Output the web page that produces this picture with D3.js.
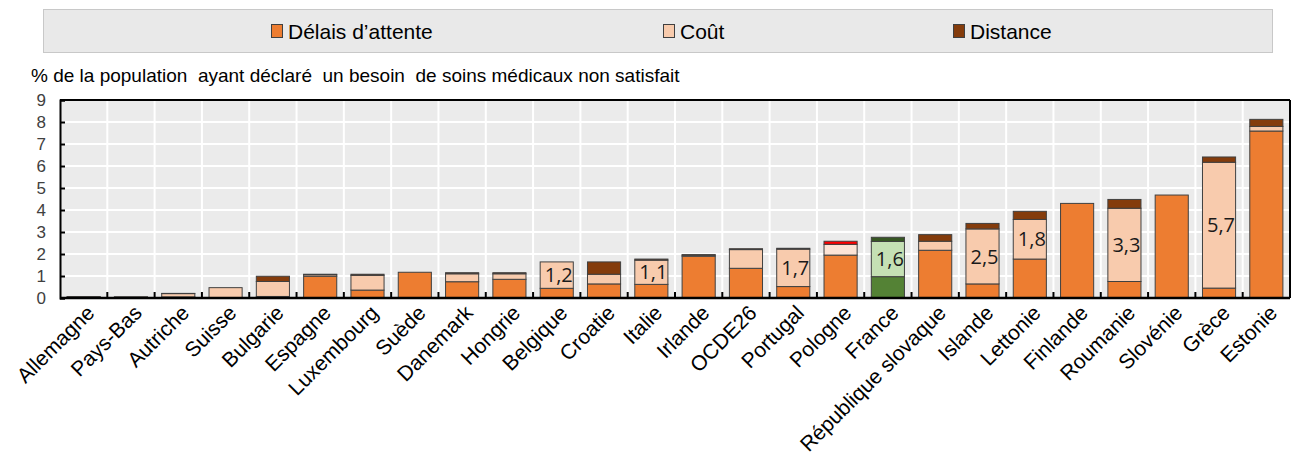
<!DOCTYPE html>
<html>
<head>
<meta charset="utf-8">
<script src="https://cdn.jsdelivr.net/npm/d3@7"></script>
<style>
  body { margin: 0; background: #fff; }
  svg { display: block; font-family: "Liberation Sans", Arial, sans-serif; }
</style>
</head>
<body>
<svg width="1299" height="463"></svg>
<script>
const countries = ['Allemagne', 'Pays-Bas', 'Autriche', 'Suisse', 'Bulgarie', 'Espagne', 'Luxembourg',
  'Suède', 'Danemark', 'Hongrie', 'Belgique', 'Croatie', 'Italie', 'Irlande', 'OCDE26', 'Portugal',
  'Pologne', 'France', 'République slovaque', 'Islande', 'Lettonie', 'Finlande', 'Roumanie',
  'Slovénie', 'Grèce', 'Estonie'];

const delai    = [0.02, 0.02, 0.05, 0.02, 0.07, 0.99, 0.36, 1.17, 0.74, 0.85, 0.44, 0.64, 0.62,
                  1.90, 1.35, 0.52, 1.95, 0.97, 2.17, 0.64, 1.77, 4.30, 0.75, 4.68, 0.45, 7.59];
const cout     = [0.03, 0.02, 0.15, 0.45, 0.68, 0.07, 0.67, 0.00, 0.36, 0.25, 1.20, 0.44, 1.10,
                  0.05, 0.85, 1.70, 0.49, 1.60, 0.41, 2.50, 1.80, 0.00, 3.33, 0.00, 5.72, 0.21];
const distance = [0.01, 0.01, 0.01, 0.00, 0.24, 0.02, 0.05, 0.00, 0.05, 0.05, 0.00, 0.56, 0.05,
                  0.02, 0.04, 0.04, 0.14, 0.19, 0.30, 0.25, 0.37, 0.00, 0.40, 0.00, 0.24, 0.32];

// countries whose cost value is written on the bar
const labelled = ['Belgique', 'Italie', 'Portugal', 'France', 'Islande', 'Lettonie', 'Roumanie', 'Grèce'];

const yTicks = [0, 1, 2, 3, 4, 5, 6, 7, 8, 9];

const KEYS = ['delai', 'cout', 'distance'];
const LEGEND = ['Délais d’attente', 'Coût', 'Distance'];
const COLORS = {delai: '#ED7D31', cout: '#F8CBAD', distance: '#843C0C'};
// highlighted bars
const SPECIAL = {
  'Pologne': {delai: '#ED7D31', cout: '#FCE4D6', distance: '#FF0000'},
  'France': {delai: '#548235', cout: '#C5E0B4', distance: '#375623'}
};

const MARGIN = {top: 100, right: 9, bottom: 165, left: 60};
const WIDTH = 1299 - MARGIN.left - MARGIN.right;
const HEIGHT = 463 - MARGIN.top - MARGIN.bottom;

const rows = countries.map((c, i) => ({country: c, delai: delai[i], cout: cout[i], distance: distance[i]}));
const series = d3.stack().keys(KEYS)(rows);

const svg = d3.select('svg');

/* legend box */
const leg = svg.append('g');
leg.append('rect')
  .attr('x', 43.5).attr('y', 9.5).attr('width', 1229).attr('height', 43)
  .attr('fill', '#E9E9E9').attr('stroke', '#C8C8C8');
const legX = [271, 663, 953];
KEYS.forEach((k, i) => {
  leg.append('rect')
    .attr('x', legX[i] + 0.5).attr('y', 24.5).attr('width', 11).attr('height', 13)
    .attr('fill', COLORS[k]).attr('stroke', '#404040');
  leg.append('text')
    .attr('x', legX[i] + 17).attr('y', 39)
    .attr('font-size', 21).attr('fill', '#000')
    .text(LEGEND[i]);
});

/* title */
svg.append('text')
  .attr('x', 31).attr('y', 82)
  .attr('font-size', 19).attr('fill', '#000')
  .style('white-space', 'pre')
  .text('% de la population  ayant déclaré  un besoin  de soins médicaux non satisfait');

const g = svg.append('g').attr('transform', 'translate(' + MARGIN.left + ',' + MARGIN.top + ')');

const x = d3.scaleBand().domain(countries).range([0, WIDTH]).paddingInner(0.3).paddingOuter(0.15);
const y = d3.scaleLinear().domain([0, 9]).range([HEIGHT, 0]);

g.append('rect').attr('width', WIDTH).attr('height', HEIGHT).attr('fill', '#EBEBEB');

// grid
g.append('g').selectAll('line').data(yTicks.slice(1, -1)).join('line')
  .attr('x1', 0).attr('x2', WIDTH)
  .attr('y1', d => y(d)).attr('y2', d => y(d))
  .attr('stroke', '#fff').attr('stroke-width', 2);
const step = x.step();
const bounds = countries.slice(1).map(c => x(c) - step * x.paddingInner() / 2);
g.append('g').selectAll('line').data(bounds).join('line')
  .attr('x1', d => d).attr('x2', d => d)
  .attr('y1', 0).attr('y2', HEIGHT)
  .attr('stroke', '#fff').attr('stroke-width', 2);

// bars
series.forEach(s => {
  g.append('g').selectAll('rect').data(s).join('rect')
    .attr('x', d => x(d.data.country))
    .attr('width', x.bandwidth())
    .attr('y', d => y(d[1]))
    .attr('height', d => Math.max(0, y(d[0]) - y(d[1])))
    .attr('fill', d => (SPECIAL[d.data.country] || COLORS)[s.key])
    .attr('stroke', '#404040').attr('stroke-width', 1);
});

// value labels on the cost segment
g.append('g').selectAll('text').data(rows.filter(r => labelled.includes(r.country))).join('text')
  .attr('x', d => x(d.country) + x.bandwidth() / 2 + 2)
  .attr('y', d => y(d.delai + d.cout / 2))
  .attr('dy', '0.36em')
  .attr('text-anchor', 'middle')
  .attr('font-family', '"Open Sans", sans-serif')
  .attr('font-size', 20).attr('fill', '#1a1a1a')
  .text(d => d3.format('.1f')(d.cout).replace('.', ','));

// frame
g.append('line').attr('x1', 0).attr('x2', WIDTH).attr('y1', 0).attr('y2', 0).attr('stroke', '#000').attr('stroke-width', 2);
g.append('line').attr('x1', WIDTH).attr('x2', WIDTH).attr('y1', 0).attr('y2', HEIGHT).attr('stroke', '#000').attr('stroke-width', 2);

// y axis
const yAxis = g.append('g')
  .call(d3.axisLeft(y).tickValues(yTicks).tickSize(-5).tickPadding(14));
yAxis.select('.domain').attr('stroke', '#000').attr('stroke-width', 2);
yAxis.selectAll('.tick line').attr('stroke', '#000').attr('stroke-width', 2);
yAxis.selectAll('text').attr('font-size', 17).attr('fill', '#404040').attr('font-family', '"Liberation Sans", Arial, sans-serif');

// x axis: ticks between bars
const xAxis = g.append('g').attr('transform', 'translate(0,' + HEIGHT + ')');
xAxis.append('line').attr('x1', 0).attr('x2', WIDTH).attr('stroke', '#000').attr('stroke-width', 2.5);
xAxis.selectAll('.tk').data(bounds).join('line').attr('class', 'tk')
  .attr('x1', d => d).attr('x2', d => d).attr('y1', 0).attr('y2', -6)
  .attr('stroke', '#000').attr('stroke-width', 2);
xAxis.selectAll('.lbl').data(countries).join('text').attr('class', 'lbl')
  .attr('transform', d => 'translate(' + (x(d) + x.bandwidth() / 2 + 1) + ',5) rotate(-45)')
  .attr('text-anchor', 'end')
  .attr('dy', '0.75em')
  .attr('font-size', 21).attr('fill', '#000')
  .text(d => d);
</script>
</body>
</html>
